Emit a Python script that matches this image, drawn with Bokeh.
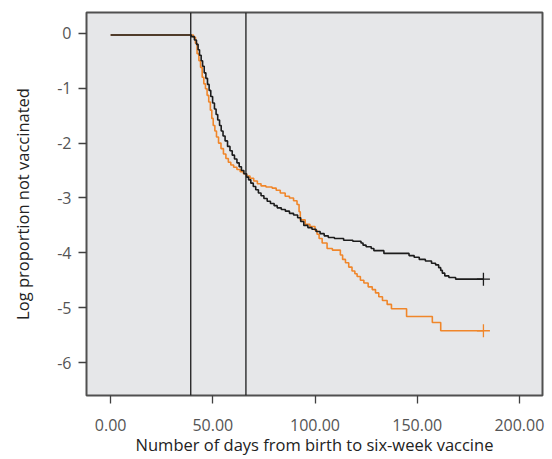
from bokeh.plotting import figure
from bokeh.models import Span, Range1d, FixedTicker, NumeralTickFormatter
from bokeh.embed import file_html
from bokeh.resources import INLINE

# Black series (group 1): days, log proportion not vaccinated
black_days = [0, 39.5, 41.0, 42.0, 42.8, 43.5, 44.3, 45.0, 45.8, 46.6, 47.4, 48.2, 49.0, 49.9,
              50.8, 51.6, 52.4, 53.3, 54.1, 55.0, 56.0, 57.2, 58.4, 59.5, 60.6, 61.8, 62.9,
              64.0, 65.2, 66.5, 67.5, 68.6, 69.8, 71.0, 72.3, 73.6, 75.0, 76.6, 78.2, 80.0,
              81.5, 83.5, 85.5, 87.5, 89.5, 91.5, 93.0, 94.5, 96.5, 98.5, 100.5, 102.5, 104.5,
              106.5, 109.5, 114.0, 118.5, 122.5, 123.5, 125.0, 127.5, 128.8, 133.7, 146.0,
              148.5, 151.0, 154.0, 157.0, 159.0, 160.5, 161.5, 162.3, 163.5, 165.5, 168.8, 182.4]
black_vals = [-0.03, -0.06, -0.12, -0.20, -0.30, -0.40, -0.50, -0.60, -0.72, -0.82, -0.93, -1.04,
              -1.15, -1.27, -1.38, -1.48, -1.58, -1.68, -1.78, -1.87, -1.96, -2.06, -2.14, -2.22,
              -2.29, -2.36, -2.43, -2.50, -2.56, -2.62, -2.67, -2.73, -2.79, -2.85, -2.91, -2.96,
              -3.01, -3.06, -3.10, -3.14, -3.18, -3.21, -3.24, -3.28, -3.31, -3.36, -3.43, -3.50,
              -3.54, -3.57, -3.61, -3.65, -3.69, -3.72, -3.74, -3.77, -3.79, -3.82, -3.86, -3.89,
              -3.92, -3.96, -4.01, -4.05, -4.08, -4.12, -4.15, -4.19, -4.22, -4.27, -4.32, -4.37,
              -4.42, -4.45, -4.48, -4.48]

# Orange series (group 2)
orange_days = [0, 40.5, 41.5, 42.3, 43.2, 44.0, 44.8, 45.6, 46.4, 47.2, 48.0, 48.8, 49.5, 50.2,
               51.0, 51.8, 52.8, 54.0, 55.2, 56.4, 57.6, 58.8, 60.2, 61.8, 63.4, 65.0, 66.5,
               68.2, 70.0, 71.8, 73.6, 76.0, 79.0, 81.0, 83.0, 85.4, 87.5, 89.5, 91.2, 92.2,
               92.8, 95.2, 97.5, 100.0, 101.0, 102.0, 103.5, 105.9, 108.5, 112.4, 113.5, 114.9,
               116.5, 118.1, 119.5, 120.6, 122.2, 123.9, 126.0, 128.0, 129.6, 131.2, 133.0,
               135.3, 137.4, 144.8, 157.4, 161.5, 182.4]
orange_vals = [-0.03, -0.07, -0.18, -0.37, -0.50, -0.62, -0.80, -0.92, -1.01, -1.13, -1.25, -1.40,
               -1.55, -1.68, -1.78, -1.89, -2.00, -2.10, -2.20, -2.28, -2.35, -2.40, -2.44, -2.48,
               -2.52, -2.56, -2.60, -2.64, -2.69, -2.74, -2.78, -2.80, -2.82, -2.86, -2.91, -2.97,
               -3.00, -3.05, -3.12, -3.25, -3.40, -3.48, -3.52, -3.59, -3.66, -3.74, -3.82, -3.92,
               -3.95, -4.04, -4.12, -4.18, -4.26, -4.33, -4.38, -4.43, -4.50, -4.55, -4.62, -4.67,
               -4.73, -4.80, -4.87, -4.94, -5.02, -5.16, -5.27, -5.42, -5.42]

# Censored endpoints
censor_days = [182.4, 182.4]
censor_vals = [-4.48, -5.42]

# Reference vertical lines (days)
ref_lines = [39.2, 66.2]

x_ticks = [0, 50, 100, 150, 200]
y_ticks = [0, -1, -2, -3, -4, -5, -6]
y_tick_labels = {0: "0", -1: "-1", -2: "-2", -3: "-3", -4: "-4", -5: "-5", -6: "-6"}

BLACK = "#1c1c1c"
ORANGE = "#f0862a"
FONT = "Open Sans"

p = figure(width=552, height=459, output_backend="svg", toolbar_location=None,
           x_range=Range1d(-11.8, 211.3), y_range=Range1d(-6.6, 0.38),
           min_border_left=86, min_border_top=12, min_border_right=10, min_border_bottom=64)

p.background_fill_color = "#e6e7e9"
p.border_fill_color = "white"
p.outline_line_color = "#505050"
p.outline_line_width = 2
p.xgrid.visible = False
p.ygrid.visible = False

for xv in ref_lines:
    p.add_layout(Span(location=xv, dimension="height", line_color=BLACK, line_width=1.3))

p.step(orange_days, orange_vals, mode="after", line_color=ORANGE, line_width=1.6)
p.step(black_days, black_vals, mode="after", line_color=BLACK, line_width=1.6)
p.scatter(censor_days[:1], censor_vals[:1], marker="cross", size=13, line_color=BLACK, line_width=1.3)
p.scatter(censor_days[1:], censor_vals[1:], marker="cross", size=13, line_color=ORANGE, line_width=1.3)

p.xaxis.ticker = FixedTicker(ticks=x_ticks)
p.xaxis.formatter = NumeralTickFormatter(format="0.00")
p.yaxis.ticker = FixedTicker(ticks=y_ticks)
p.yaxis.major_label_overrides = y_tick_labels

for ax in (p.xaxis, p.yaxis):
    ax.axis_line_color = None
    ax.major_tick_line_color = "#404040"
    ax.major_tick_line_width = 1.3
    ax.major_tick_in = 0
    ax.major_tick_out = 8
    ax.minor_tick_line_color = None
    ax.major_label_text_font = FONT
    ax.major_label_text_font_size = "16px"
    ax.major_label_text_color = "#555555"
    ax.axis_label_text_font = FONT
    ax.axis_label_text_font_size = "16.5px"
    ax.axis_label_text_font_style = "normal"
    ax.axis_label_text_color = "#222222"

p.xaxis.axis_label = "Number of days from birth to six-week vaccine"
p.yaxis.axis_label = "Log proportion not vaccinated"
p.xaxis.major_label_standoff = 15
p.yaxis.major_label_standoff = 7
p.xaxis.axis_label_standoff = -1
p.yaxis.axis_label_standoff = 20

open("out.html", "w").write(file_html(p, INLINE))
